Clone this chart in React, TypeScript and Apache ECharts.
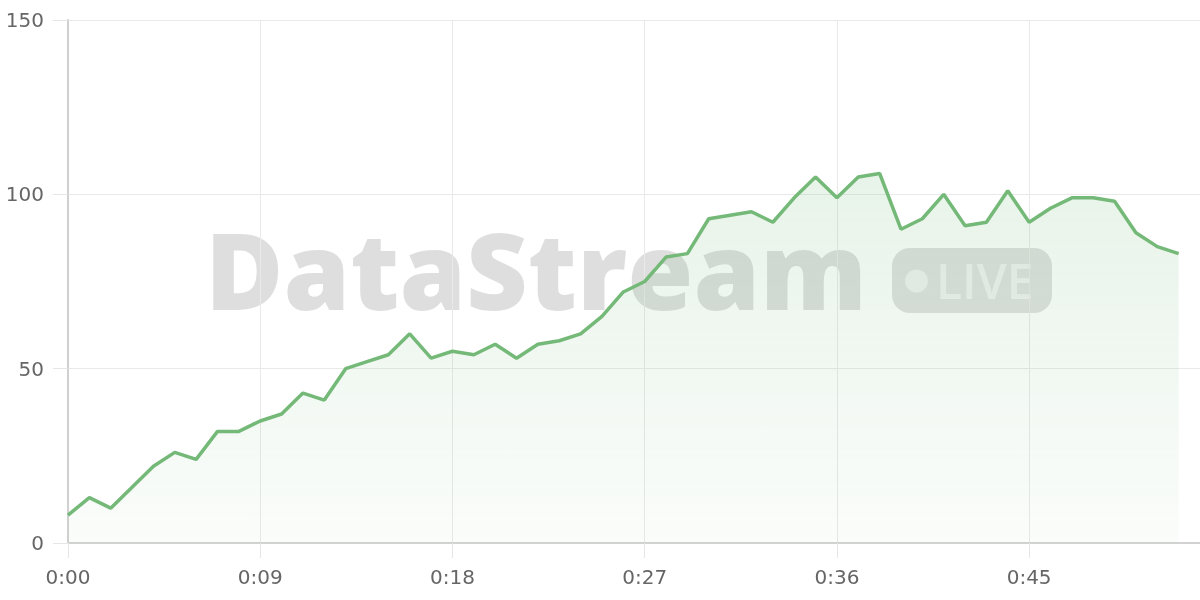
import React, { useEffect, useRef } from "react";
import * as echarts from "echarts";

const seconds: number[] = Array.from({ length: 53 }, (_, i) => i);
const values: number[] = [
  8, 13, 10, 16, 22, 26, 24, 32, 32, 35, 37, 43, 41, 50, 52, 54, 60, 53, 55, 54,
  57, 53, 57, 58, 60, 65, 72, 75, 82, 83, 93, 94, 95, 92, 99, 105, 99, 105, 106, 90,
  93, 100, 91, 92, 101, 92, 96, 99, 99, 98, 89, 85, 83,
];
const yTicks = { min: 0, max: 150, interval: 50 };
const xTicks = { min: 0, max: 53, interval: 9 };
const watermark = "DataStream";
const badgeText = "LIVE";

function fmtTime(v: number): string {
  const m = Math.floor(v / 60);
  const s = Math.round(v % 60);
  return `${m}:${s < 10 ? "0" + s : s}`;
}

export default function App() {
  const ref = useRef<HTMLDivElement>(null);
  useEffect(() => {
    document.body.style.margin = "0";
    const chart = echarts.init(ref.current!, undefined, { renderer: "svg" });
    const labelFont = { fontFamily: "DejaVu Sans", fontSize: 20, color: "#666666" };
    chart.setOption({
      animation: false,
      grid: { left: 68, right: 0, top: 20, bottom: 57, containLabel: false },
      xAxis: {
        type: "value",
        min: xTicks.min,
        max: xTicks.max,
        interval: xTicks.interval,
        axisLine: { show: true, lineStyle: { color: "#d2d2d2", width: 2 } },
        axisTick: { show: true, length: 15, lineStyle: { color: "#e6e6e6" } },
        axisLabel: { ...labelFont, margin: 24, showMaxLabel: false, formatter: (v: number) => fmtTime(v) },
        splitLine: { show: true, lineStyle: { color: "#e9e9e9" } },
      },
      yAxis: {
        type: "value",
        min: yTicks.min,
        max: yTicks.max,
        interval: yTicks.interval,
        axisLine: { show: true, lineStyle: { color: "#d0d0d0", width: 2 } },
        axisTick: { show: true, length: 15, lineStyle: { color: "#e6e6e6" } },
        axisLabel: { ...labelFont, margin: 24 },
        splitLine: { show: true, lineStyle: { color: "#e9e9e9" } },
      },
      graphic: [
        {
          type: "text",
          x: 205,
          y: 268,
          style: {
            text: watermark,
            fontFamily: "Open Sans",
            fontWeight: 800,
            fontSize: 107,
            fill: "rgba(0,0,0,0.13)",
            align: "left",
            verticalAlign: "middle",
          },
        },
        {
          type: "rect",
          shape: { x: 892, y: 248, width: 160, height: 65, r: 18 },
          style: { fill: "rgba(0,0,0,0.12)" },
        },
        {
          type: "circle",
          shape: { cx: 916.5, cy: 281, r: 11.5 },
          style: { fill: "rgba(255,255,255,0.55)" },
        },
        {
          type: "text",
          x: 936,
          y: 280,
          style: {
            text: badgeText,
            fontFamily: "Open Sans",
            fontWeight: 600,
            fontSize: 48,
            fill: "rgba(255,255,255,0.55)",
            align: "left",
            verticalAlign: "middle",
          },
        },
      ],
      series: [
        {
          type: "line",
          data: seconds.map((s, i) => [s, values[i]]),
          showSymbol: false,
          symbol: "none",
          lineStyle: { color: "#74b978", width: 3.5 },
          itemStyle: { color: "#74b978" },
          areaStyle: {
            color: new echarts.graphic.LinearGradient(0, 0, 0, 1, [
              { offset: 0, color: "rgba(116,185,122,0.24)" },
              { offset: 1, color: "rgba(116,185,122,0.05)" },
            ]),
          },
        },
      ],
    });
    return () => chart.dispose();
  }, []);
  return <div ref={ref} style={{ position: "fixed", left: 0, top: 0, width: 1200, height: 600 }} />;
}
